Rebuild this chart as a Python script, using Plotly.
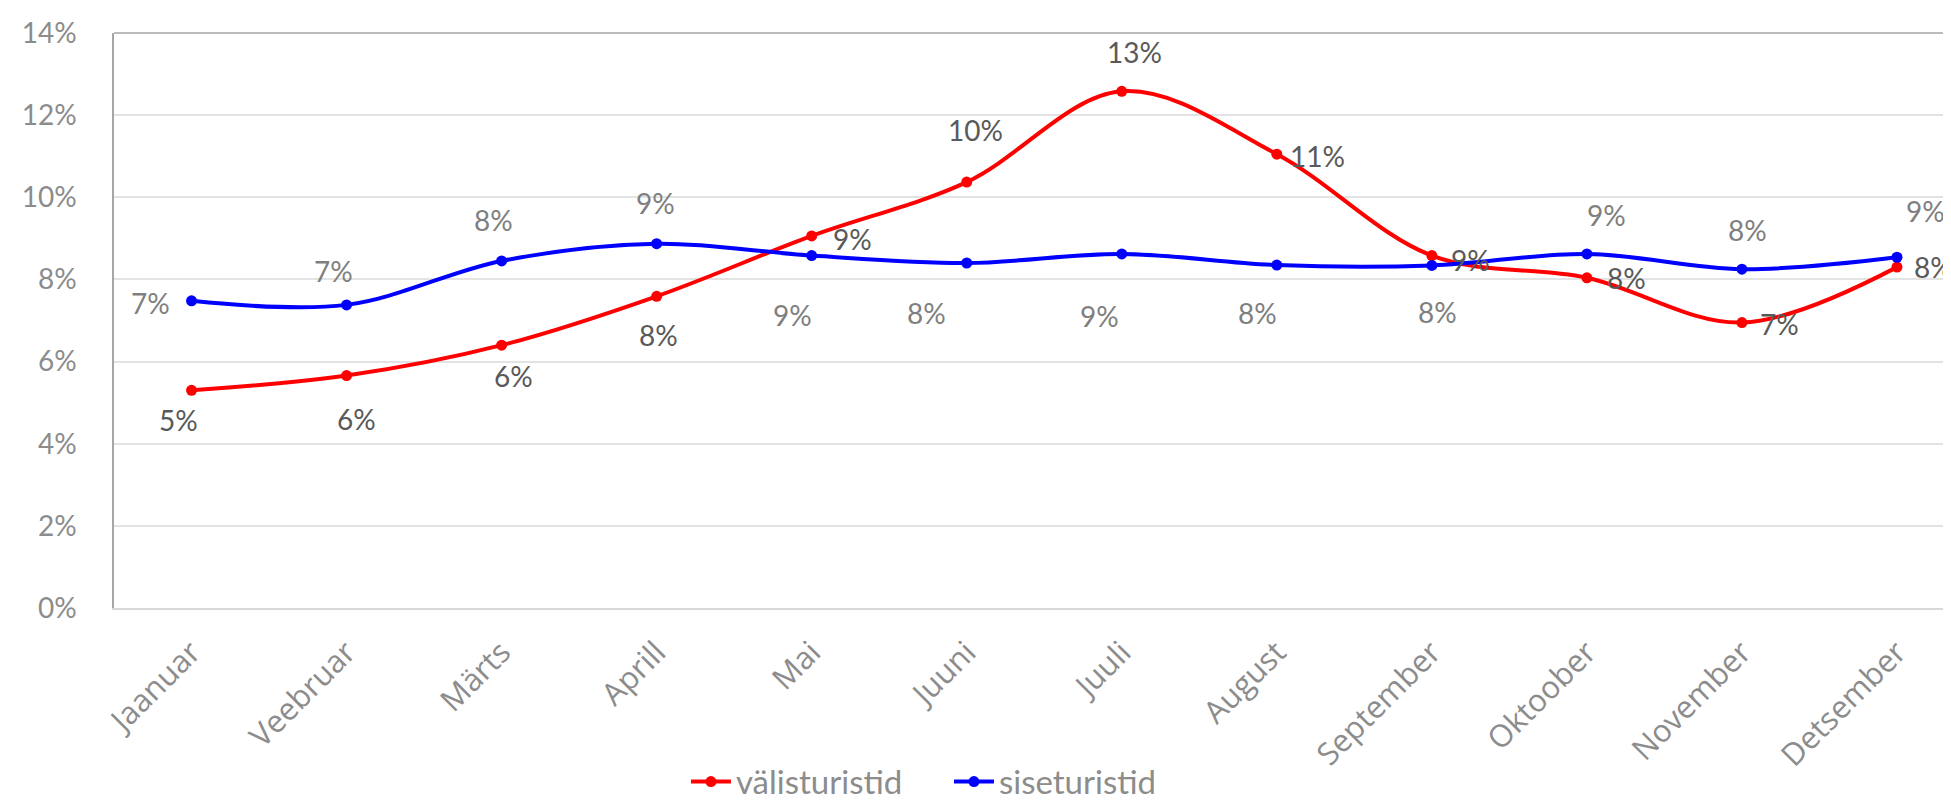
import plotly.graph_objects as go

kuud = ["Jaanuar", "Veebruar", "Märts", "Aprill", "Mai", "Juuni", "Juuli",
        "August", "September", "Oktoober", "November", "Detsember"]
valisturistid = [5.30, 5.66, 6.40, 7.59, 9.06, 10.37, 12.58, 11.05, 8.58, 8.04, 6.95, 8.30]
siseturistid = [7.48, 7.38, 8.45, 8.87, 8.58, 8.40, 8.62, 8.35, 8.34, 8.62, 8.25, 8.54]

# label offsets in px (x, y up), placed by hand like in the original
red_dx = [-13, 10, 12, 2, 41, 9, 13, 41, 39, 40, 38, 37]
red_dy = [-30, -43, -31, -39, -3, 52, 39, -2, -4, 0, -1, 0]
blue_dx = [-41, -13, -8, -1, -19, -40, -22, -19, 6, 20, 6, 29]
blue_dy = [-2, 34, 41, 41, -59, -50, -62, -48, -47, 39, 39, 46]

FONT = "Lato"
GREY = "#8c8c8c"

fig = go.Figure()
fig.add_trace(go.Scatter(x=kuud, y=valisturistid, name="välisturistid", mode="lines+markers",
                         line=dict(color="#ff0000", width=4, shape="spline"),
                         marker=dict(color="#ff0000", size=11)))
fig.add_trace(go.Scatter(x=kuud, y=siseturistid, name="siseturistid", mode="lines+markers",
                         line=dict(color="#0000ff", width=4, shape="spline"),
                         marker=dict(color="#0000ff", size=11)))

annotations = []
for k, v, dx, dy in zip(kuud, valisturistid, red_dx, red_dy):
    annotations.append(dict(x=k, y=v, text=f"{round(v)}%", showarrow=False, xshift=dx, yshift=dy,
                            font=dict(family=FONT, size=28, color="#595959")))
for k, v, dx, dy in zip(kuud, siseturistid, blue_dx, blue_dy):
    annotations.append(dict(x=k, y=v, text=f"{round(v)}%", showarrow=False, xshift=dx, yshift=dy,
                            font=dict(family=FONT, size=28, color="#7f7f7f")))

fig.update_layout(
    width=1951, height=802,
    margin=dict(l=106, r=0, t=25, b=191),
    plot_bgcolor="white", paper_bgcolor="white",
    font=dict(family=FONT, size=26, color=GREY),
    annotations=annotations,
    showlegend=True,
    legend=dict(orientation="h", x=0.31, xanchor="left", y=-0.302, yanchor="middle",
                font=dict(family=FONT, size=33, color=GREY), itemwidth=40,
                entrywidth=208, entrywidthmode="pixels", tracegroupgap=0),
    shapes=[dict(type="line", xref="paper", yref="paper", x0=0, x1=1, y0=1, y1=1,
                 line=dict(color="#a6a6a6", width=1.5))],
)
fig.update_xaxes(range=[-0.5, 11.4], tickangle=-45, showgrid=False, showline=True,
                 linecolor="#d9d9d9", linewidth=1.5, ticks="", zeroline=False,
                 tickfont=dict(family="Open Sans", size=31, color=GREY), ticklabelstandoff=12)
fig.update_yaxes(range=[0, 14], dtick=2, ticksuffix="%", showgrid=True, gridcolor="#e3e3e3",
                 gridwidth=1.5, zeroline=False, showline=True, linecolor="#a6a6a6", linewidth=1.5,
                 tickfont=dict(family=FONT, size=28, color=GREY), ticklabelstandoff=30)

fig.write_html("out.html")
